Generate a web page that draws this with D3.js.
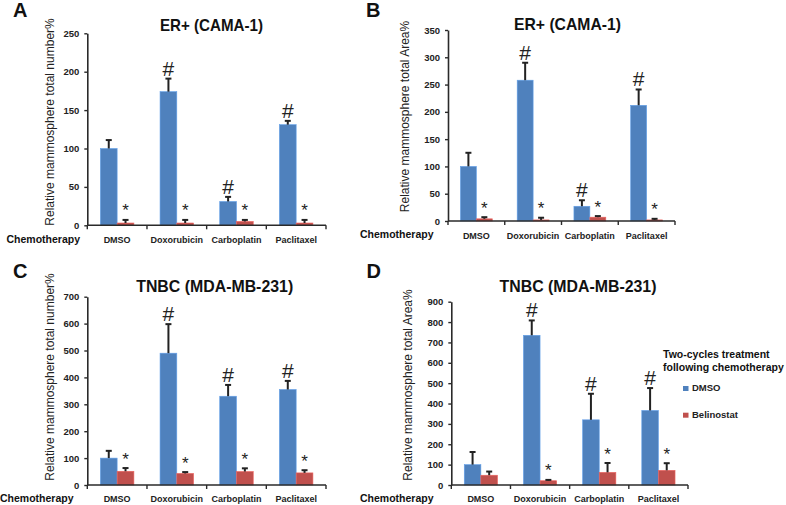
<!DOCTYPE html>
<html><head><meta charset="utf-8">
<script src="https://cdn.jsdelivr.net/npm/d3@7"></script>
<style>
html,body{margin:0;padding:0;background:#fff;}
svg{display:block;font-family:"Liberation Sans",Arial,sans-serif;}
</style></head>
<body>
<svg id="chart" width="786" height="505"></svg>
<script>
// ---------- data ----------
const categories = ["DMSO", "Doxorubicin", "Carboplatin", "Paclitaxel"];
const seriesNames = ["DMSO", "Belinostat"];

const numberER_dmso = [100, 174, 31, 131];
const numberER_dmsoErr = [11, 17, 6, 5];
const numberER_bel = [3, 3, 5, 3];
const numberER_belErr = [4, 4, 2, 4];

const areaER_dmso = [100, 258, 27, 212];
const areaER_dmsoErr = [25, 32, 11, 29];
const areaER_bel = [4, 2, 7, 2];
const areaER_belErr = [3, 4, 2, 2];

const numberTN_dmso = [100, 490, 330, 355];
const numberTN_dmsoErr = [27, 108, 42, 32];
const numberTN_bel = [51, 43, 50, 45];
const numberTN_belErr = [12, 5, 12, 10];

const areaTN_dmso = [100, 735, 320, 366];
const areaTN_dmsoErr = [62, 73, 128, 110];
const areaTN_bel = [48, 21, 62, 72];
const areaTN_belErr = [18, 4, 46, 35];

const hashA = [false, true, true, true];
const starA = [true, true, true, true];
const hashB = [false, true, true, true];
const starB = [true, true, true, true];
const hashC = [false, true, true, true];
const starC = [true, true, true, true];
const hashD = [false, true, true, true];
const starD = [false, true, true, true];

const ticksA = [0, 50, 100, 150, 200, 250];
const ticksB = [0, 50, 100, 150, 200, 250, 300, 350];
const ticksC = [0, 100, 200, 300, 400, 500, 600, 700];
const ticksD = [0, 100, 200, 300, 400, 500, 600, 700, 800, 900];

const titles = ["ER+ (CAMA-1)", "ER+ (CAMA-1)", "TNBC (MDA-MB-231)", "TNBC (MDA-MB-231)"];
const yLabels = ["Relative mammosphere total number%", "Relative mammosphere total Area%",
                 "Relative mammosphere total number%", "Relative mammosphere total Area%"];
const panelLetters = ["A", "B", "C", "D"];
const xTitle = "Chemotherapy";
const legendTitle = ["Two-cycles treatment", "following chemotherapy"];

// ---------- layout ----------
const colors = {DMSO: "#4F81BD", Belinostat: "#C0504D"};
const layouts = [
  {x0: 87.3, x1: 326, y0: 225.3, y1: 33.3, letterX: 13, letterY: 16.7, titleX: 211.5, titleY: 30.5, titleW: 103,
   ylabX: 50, ylabY: 122, chemX: 6.5, chemY: 243, catY: 243},
  {x0: 448, x1: 675, y0: 221, y1: 30, letterX: 366, letterY: 16.7, titleX: 567.5, titleY: 30, titleW: 107,
   ylabX: 405, ylabY: 116.5, chemX: 360, chemY: 238, catY: 238.5},
  {x0: 87.3, x1: 326, y0: 485, y1: 296.7, letterX: 13, letterY: 278.3, titleX: 214.7, titleY: 292.3, titleW: 157,
   ylabX: 50, ylabY: 377, chemX: 0, chemY: 502, catY: 501.5},
  {x0: 451.3, x1: 688, y0: 485, y1: 301.7, letterX: 366.5, letterY: 278.3, titleX: 578, titleY: 291.7, titleW: 157,
   ylabX: 408, ylabY: 385, chemX: 360, chemY: 502, catY: 501.5}
];

const panels = [
  {dmso: numberER_dmso, dmsoErr: numberER_dmsoErr, bel: numberER_bel, belErr: numberER_belErr, hash: hashA, star: starA, ticks: ticksA},
  {dmso: areaER_dmso, dmsoErr: areaER_dmsoErr, bel: areaER_bel, belErr: areaER_belErr, hash: hashB, star: starB, ticks: ticksB},
  {dmso: numberTN_dmso, dmsoErr: numberTN_dmsoErr, bel: numberTN_bel, belErr: numberTN_belErr, hash: hashC, star: starC, ticks: ticksC},
  {dmso: areaTN_dmso, dmsoErr: areaTN_dmsoErr, bel: areaTN_bel, belErr: areaTN_belErr, hash: hashD, star: starD, ticks: ticksD}
];

const svg = d3.select("#chart");
const axisColor = "#2a2a2a";

panels.forEach((p, i) => {
  const L = layouts[i];
  const g = svg.append("g");
  const x = d3.scaleBand().domain(categories).range([L.x0, L.x1]);
  const xs = d3.scaleBand().domain(seriesNames).range([0, x.bandwidth()]).paddingInner(0).paddingOuter(0.78);
  const y = d3.scaleLinear().domain([p.ticks[0], p.ticks[p.ticks.length - 1]]).range([L.y0, L.y1]);

  g.append("text").attr("x", L.letterX).attr("y", L.letterY).text(panelLetters[i])
    .attr("font-size", 20).attr("font-weight", "bold").attr("fill", "#111");
  g.append("text").attr("x", L.titleX).attr("y", L.titleY).text(titles[i])
    .attr("text-anchor", "middle").attr("font-size", 17).attr("font-weight", "bold").attr("fill", "#111")
    .attr("textLength", L.titleW).attr("lengthAdjust", "spacingAndGlyphs");
  g.append("text").attr("transform", `translate(${L.ylabX},${L.ylabY}) rotate(-90)`)
    .attr("text-anchor", "middle").attr("dominant-baseline", "central")
    .attr("font-size", 12).attr("fill", "#222").text(yLabels[i]);

  const rows = categories.map((c, k) => ({
    cat: c,
    vals: [
      {s: "DMSO", v: p.dmso[k], e: p.dmsoErr[k], mark: p.hash[k] ? "#" : null},
      {s: "Belinostat", v: p.bel[k], e: p.belErr[k], mark: p.star[k] ? "*" : null}
    ]
  }));
  const cg = g.selectAll(".cat").data(rows).join("g").attr("transform", d => `translate(${x(d.cat)},0)`);
  const items = cg.selectAll(".item").data(d => d.vals).join("g");
  items.append("rect")
    .attr("x", d => xs(d.s)).attr("width", xs.bandwidth())
    .attr("y", d => y(d.v)).attr("height", d => y(0) - y(d.v))
    .attr("fill", d => colors[d.s]).attr("stroke", d => d3.color(colors[d.s]).brighter(0.6)).attr("stroke-width", 0.6);
  items.append("line")
    .attr("x1", d => xs(d.s) + xs.bandwidth() / 2).attr("x2", d => xs(d.s) + xs.bandwidth() / 2)
    .attr("y1", d => y(d.v)).attr("y2", d => y(d.v + d.e))
    .attr("stroke", "#222").attr("stroke-width", 2);
  items.append("line")
    .attr("x1", d => xs(d.s) + xs.bandwidth() / 2 - 3).attr("x2", d => xs(d.s) + xs.bandwidth() / 2 + 3)
    .attr("y1", d => y(d.v + d.e)).attr("y2", d => y(d.v + d.e))
    .attr("stroke", "#222").attr("stroke-width", 2);
  items.filter(d => d.mark === "#").append("text")
    .attr("x", d => xs(d.s) + xs.bandwidth() / 2).attr("y", d => y(d.v + d.e) - 3)
    .attr("text-anchor", "middle").attr("font-size", 21).attr("fill", "#222").text("#");
  items.filter(d => d.mark === "*").append("text")
    .attr("x", d => xs(d.s) + xs.bandwidth() / 2).attr("y", d => y(d.v + d.e) - 3.5)
    .attr("text-anchor", "middle").attr("font-size", 17).attr("fill", "#222").text("*");

  const ya = g.append("g").attr("transform", `translate(${L.x0},0)`)
    .call(d3.axisLeft(y).tickValues(p.ticks).tickSize(3).tickPadding(5).tickSizeOuter(0));
  ya.select(".domain").attr("stroke", axisColor).attr("stroke-width", 1.6);
  ya.selectAll(".tick line").attr("stroke", axisColor).attr("stroke-width", 1.4);
  ya.selectAll(".tick text").attr("font-size", 9.5).attr("font-weight", "bold").attr("fill", "#222")
    .attr("font-family", "Liberation Sans, Arial, sans-serif");

  const xa = g.append("g").attr("transform", `translate(0,${L.y0})`);
  xa.append("line").attr("x1", L.x0).attr("x2", L.x1).attr("stroke", axisColor).attr("stroke-width", 1.6);
  const bounds = categories.map(c => x(c) + x.bandwidth()).concat([x(categories[0])]);
  xa.selectAll(".bt").data(bounds).join("line")
    .attr("x1", d => d).attr("x2", d => d).attr("y1", 0).attr("y2", 4)
    .attr("stroke", axisColor).attr("stroke-width", 1.4);
  g.selectAll(".catlab").data(categories).join("text")
    .attr("x", c => x(c) + x.bandwidth() / 2).attr("y", L.catY)
    .attr("text-anchor", "middle").attr("font-size", 9).attr("font-weight", "bold").attr("fill", "#222").text(c => c);
  g.append("text").attr("x", L.chemX).attr("y", L.chemY).text(xTitle)
    .attr("font-size", 10.5).attr("font-weight", "bold").attr("fill", "#111");
});

const lg = svg.append("g");
lg.selectAll(".lt").data(legendTitle).join("text")
  .attr("x", 663).attr("y", (d, k) => 358.3 + k * 12.6)
  .attr("font-size", 10.5).attr("font-weight", "bold").attr("fill", "#111").text(d => d);
const li = lg.selectAll(".li").data(seriesNames).join("g")
  .attr("transform", (d, k) => `translate(683,${386 + k * 26.7})`);
li.append("rect").attr("width", 5.5).attr("height", 5).attr("fill", d => colors[d]);
li.append("text").attr("x", 9).attr("y", 5).attr("font-size", 9.5).attr("font-weight", "bold").attr("fill", "#222").text(d => d);
</script>
</body></html>
